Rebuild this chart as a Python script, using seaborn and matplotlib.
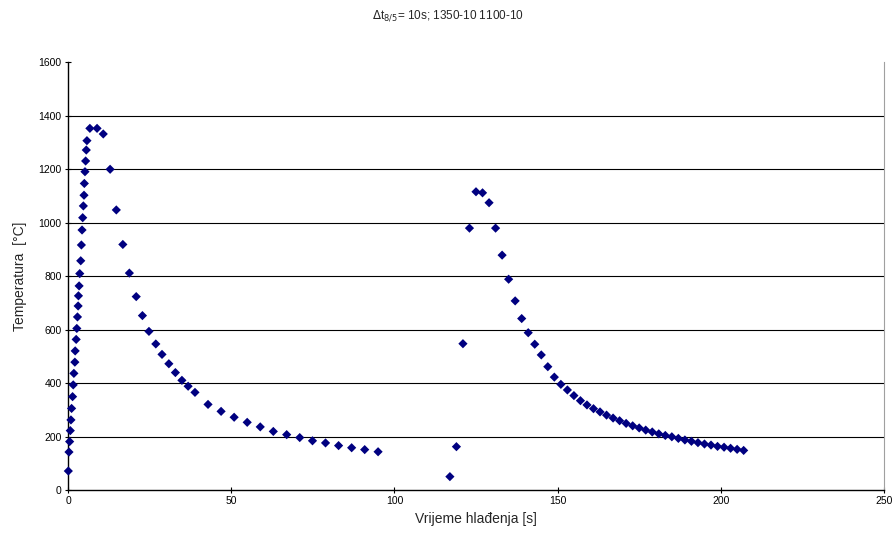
import pandas as pd
import matplotlib
matplotlib.use("Agg")
import matplotlib.pyplot as plt
import seaborn as sns

# first weld pass (1350 C peak)
time_1 = [0.1, 0.3, 0.5, 0.7, 0.9, 1.1, 1.4, 1.6, 1.8, 2.1, 2.2, 2.5, 2.7, 2.9, 3.1,
          3.2, 3.4, 3.6, 3.9, 4.1, 4.3, 4.5, 4.7, 4.9, 5.0, 5.2, 5.4, 5.6, 5.8, 6.7,
          8.9, 10.8, 12.9, 14.8, 16.8, 18.8, 20.9, 22.8, 24.8, 26.9, 28.8, 30.9, 32.9,
          34.9, 36.8, 38.9, 42.9, 46.9, 50.9, 54.9, 58.9, 62.9, 67.0, 71.0, 74.9, 78.9,
          82.9, 86.9, 90.9, 95.0]
temp_1 = [71, 142, 181, 222, 262, 305, 349, 393, 436, 478, 520, 563, 604, 647, 688,
          726, 763, 809, 857, 916, 972, 1018, 1062, 1102, 1146, 1190, 1230, 1271, 1306, 1352,
          1352, 1331, 1199, 1047, 918, 811, 723, 652, 593, 546, 507, 472, 439,
          410, 388, 365, 320, 294, 272, 253, 236, 219, 207, 196, 184, 176,
          166, 158, 151, 143]

# second weld pass (1100 C peak)
time_2 = [117, 119, 121, 123, 125, 127, 129, 131, 133, 135, 137, 139, 141, 143, 145,
          147, 149, 151, 153, 155, 157, 159, 161, 163, 165, 167, 169, 171, 173, 175,
          177, 179, 181, 183, 185, 187, 189, 191, 193, 195, 197, 199, 201, 203, 205, 207]
temp_2 = [50, 162, 547, 979, 1115, 1111, 1074, 979, 878, 788, 707, 641, 588, 545, 505,
          461, 422, 395, 374, 353, 334, 318, 304, 292, 280, 269, 259, 249, 240, 232,
          224, 217, 210, 204, 199, 193, 187, 182, 177, 172, 168, 163, 160, 156, 152, 148]

df = pd.DataFrame({"t": time_1 + time_2, "T": temp_1 + temp_2})

sns.set_style("white")
plt.rcParams['font.family'] = ['Liberation Sans', 'DejaVu Sans']

fig = plt.figure(figsize=(8.96, 5.36), dpi=100)
ax = fig.add_axes([0.0759, 0.0858, 0.9107, 0.7985])

ax.set_axisbelow(True)
for y in range(200, 1600, 200):
    ax.axhline(y, color="black", lw=0.8, zorder=0)

sns.scatterplot(data=df, x="t", y="T", marker="D", s=22, color="#000080",
                edgecolor="none", linewidth=0, ax=ax, zorder=3, clip_on=False)

ax.set_xlim(0, 250)
ax.set_ylim(0, 1600)
ax.set_xticks(range(0, 251, 50))
ax.set_yticks(range(0, 1601, 200))
ax.tick_params(axis="both", direction="inout", length=5, width=0.8, labelsize=7.5,
               colors="black", bottom=True, left=True, pad=2)

ax.spines["top"].set_visible(False)
ax.spines["right"].set_color("#a0a0a0")
for s in ["left", "bottom"]:
    ax.spines[s].set_color("black")
    ax.spines[s].set_linewidth(1.0)

ax.set_xlabel("Vrijeme hlađenja [s]", fontsize=10, labelpad=4)
ax.set_ylabel("Temperatura  [°C]", fontsize=10, labelpad=8)

fig.text(0.5, 0.97, r"$\Delta$t$_{8/5}$= 10s; 1350-10 1100-10", ha="center", va="center",
         fontsize=8.5)

fig.savefig("out.png", dpi=100)
